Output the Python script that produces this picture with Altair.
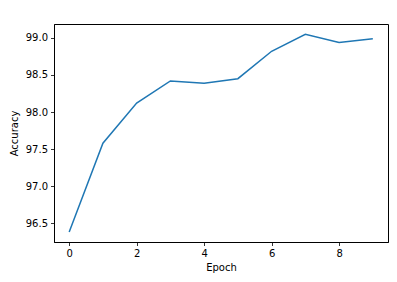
import altair as alt
import pandas as pd

epochs = [0, 1, 2, 3, 4, 5, 6, 7, 8, 9]
accuracy = [96.38, 97.58, 98.12, 98.42, 98.39, 98.45, 98.82, 99.05, 98.94, 98.99]

df = pd.DataFrame({"Epoch": epochs, "Accuracy": accuracy})

font = "DejaVu Sans"

chart = alt.Chart(df).mark_line(color="#1f77b4", strokeWidth=1.5).encode(
    x=alt.X("Epoch:Q",
            scale=alt.Scale(domain=[-0.45, 9.45], nice=False, zero=False),
            axis=alt.Axis(values=[0, 2, 4, 6, 8], format="d", title="Epoch",
                          titlePadding=4)),
    y=alt.Y("Accuracy:Q",
            scale=alt.Scale(domain=[96.246, 99.188], nice=False, zero=False),
            axis=alt.Axis(values=[96.5, 97.0, 97.5, 98.0, 98.5, 99.0], format=".1f",
                          title="Accuracy", titlePadding=6)),
).properties(
    width=334, height=218,
    background="white",
    autosize=alt.AutoSizeParams(type="none"),
    padding={"left": 54, "top": 24, "right": 9, "bottom": 40},
).configure_view(
    stroke="black", strokeWidth=1
).configure_axis(
    grid=False,
    domainColor="black", domainWidth=1,
    tickColor="black", tickSize=3.5, tickWidth=0.8,
    labelFont=font, labelFontSize=10, labelColor="black", labelPadding=3,
    titleFont=font, titleFontSize=10, titleFontWeight="normal", titleColor="black",
)

chart.save("out.html", embed_options={"renderer": "svg", "actions": False})
